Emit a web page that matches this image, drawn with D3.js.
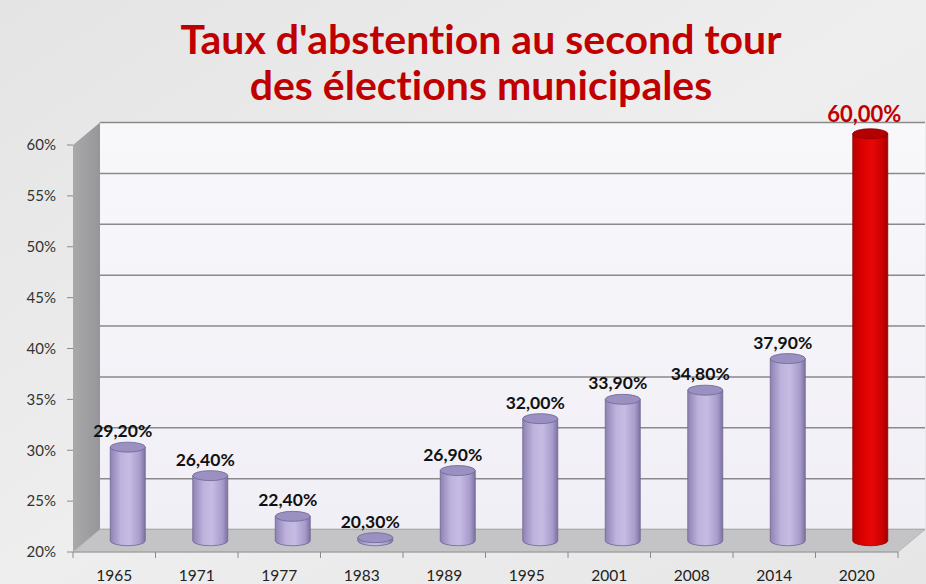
<!DOCTYPE html>
<html>
<head>
<meta charset="utf-8">
<script src="https://cdn.jsdelivr.net/npm/d3@7"></script>
<style>
  html, body { margin: 0; padding: 0; background: #e6e6e6; }
  svg { display: block; }
  text { font-variant-ligatures: none; }
</style>
</head>
<body>
<div id="chart"></div>
<script>
// Data
const years = ['1965', '1971', '1977', '1983', '1989', '1995', '2001', '2008', '2014', '2020'];
const abstention = [29.2, 26.4, 22.4, 20.3, 26.9, 32.0, 33.9, 34.8, 37.9, 60.0];
const yTicks = [20, 25, 30, 35, 40, 45, 50, 55, 60];
const titleLines = ["Taux d'abstention au second tour", 'des élections municipales'];
const highlightYear = '2020';

const width = 926;
const height = 584;

// front plane of the 3D box, plus depth offset to back wall
const front = { left: 73, right: 898, top: 145, bottom: 552 };
const depth = { dx: 27, dy: -22.5 };

const x = d3.scaleBand()
    .domain(years)
    .range([front.left, front.right]);

const y = d3.scaleLinear()
    .domain([20, 60])
    .range([front.bottom, front.top]);

const frFormat = d3.formatLocale({ decimal: ',', thousands: ' ', grouping: [3], currency: ['', ' €'] }).format('.2f');
const pct = v => frFormat(v) + '%';

const svg = d3.select('#chart')
    .append('svg')
    .attr('width', width)
    .attr('height', height);

const defs = svg.append('defs');

// background
const bg = defs.append('linearGradient').attr('id', 'bg')
    .attr('x1', 0).attr('y1', 0).attr('x2', 1).attr('y2', 1);
bg.append('stop').attr('offset', 0).attr('stop-color', '#e4e4e4');
bg.append('stop').attr('offset', 0.5).attr('stop-color', '#eeeeee');
bg.append('stop').attr('offset', 1).attr('stop-color', '#e6e6e6');

const wall = defs.append('linearGradient').attr('id', 'wall')
    .attr('x1', 0).attr('y1', 0).attr('x2', 0).attr('y2', 1);
wall.append('stop').attr('offset', 0).attr('stop-color', '#f8f8fb');
wall.append('stop').attr('offset', 1).attr('stop-color', '#f1eff6');

const side = defs.append('linearGradient').attr('id', 'side')
    .attr('x1', 0).attr('y1', 0).attr('x2', 1).attr('y2', 0);
side.append('stop').attr('offset', 0).attr('stop-color', '#a9a9ab');
side.append('stop').attr('offset', 1).attr('stop-color', '#96969a');

function cylGradient(id, stops) {
    const g = defs.append('linearGradient').attr('id', id)
        .attr('x1', 0).attr('y1', 0).attr('x2', 1).attr('y2', 0);
    stops.forEach(s => g.append('stop').attr('offset', s[0]).attr('stop-color', s[1]));
}
cylGradient('lav', [[0, '#8e82b4'], [0.3, '#bdb2dc'], [0.55, '#c6bce3'], [0.85, '#a79bcc'], [1, '#7d719f']]);
cylGradient('red', [[0, '#b80000'], [0.3, '#e00000'], [0.55, '#e60808'], [0.85, '#cc0000'], [1, '#9a0000']]);

svg.append('rect')
    .attr('width', width)
    .attr('height', height)
    .attr('fill', 'url(#bg)');

// title
svg.append('g')
    .selectAll('text')
    .data(titleLines)
    .join('text')
    .attr('x', 481)
    .attr('y', (d, i) => 54 + i * 46)
    .attr('text-anchor', 'middle')
    .attr('fill', '#c00000')
    .style('font-family', 'Lato, "Open Sans", sans-serif')
    .style('font-weight', 'bold')
    .style('font-size', '41px')
    .text(d => d);

// back wall
const backLeft = front.left + depth.dx;
const backRight = front.right + depth.dx;
svg.append('rect')
    .attr('x', backLeft)
    .attr('y', y(60) + depth.dy)
    .attr('width', backRight - backLeft)
    .attr('height', y(20) - y(60))
    .attr('fill', 'url(#wall)');

// gridlines on back wall
svg.append('g')
    .selectAll('line')
    .data(yTicks)
    .join('line')
    .attr('x1', backLeft)
    .attr('x2', backRight)
    .attr('y1', d => y(d) + depth.dy)
    .attr('y2', d => y(d) + depth.dy)
    .attr('stroke', '#8a8a8a')
    .attr('stroke-width', 1.5);

// side wall
svg.append('path')
    .attr('d', `M${front.left},${y(60)} L${backLeft},${y(60) + depth.dy} L${backLeft},${y(20) + depth.dy} L${front.left},${y(20)} Z`)
    .attr('fill', 'url(#side)');

// floor
svg.append('path')
    .attr('d', `M${front.left},${y(20)} L${backLeft},${y(20) + depth.dy} L${backRight},${y(20) + depth.dy} L${front.right},${y(20)} Z`)
    .attr('fill', '#c4c4c6')
    .attr('stroke', '#b0b0b2')
    .attr('stroke-width', 0.8);

// y axis ticks and labels
const yAxis = svg.append('g');
yAxis.selectAll('line')
    .data(yTicks)
    .join('line')
    .attr('x1', front.left - 6)
    .attr('x2', front.left)
    .attr('y1', d => y(d))
    .attr('y2', d => y(d))
    .attr('stroke', '#8a8a8a');
yAxis.selectAll('text')
    .data(yTicks)
    .join('text')
    .attr('x', 56)
    .attr('y', d => y(d))
    .attr('dy', '0.35em')
    .attr('text-anchor', 'end')
    .attr('fill', '#333')
    .style('font-family', 'Lato, sans-serif')
    .style('font-size', '15px')
    .text(d => d + '%');

// x axis ticks and labels
const xAxis = svg.append('g');
xAxis.append('line')
    .attr('x1', front.left).attr('x2', front.right)
    .attr('y1', y(20)).attr('y2', y(20))
    .attr('stroke', '#9a9a9a');
xAxis.selectAll('line.tick')
    .data(years.concat(['end']))
    .join('line')
    .attr('class', 'tick')
    .attr('x1', d => d === 'end' ? front.right : x(d))
    .attr('x2', d => d === 'end' ? front.right : x(d))
    .attr('y1', y(20))
    .attr('y2', y(20) + 6)
    .attr('stroke', '#8a8a8a');
xAxis.selectAll('text')
    .data(years)
    .join('text')
    .attr('x', d => x(d) + x.bandwidth() / 2)
    .attr('y', 581)
    .attr('text-anchor', 'middle')
    .attr('fill', '#222')
    .style('font-family', 'Lato, sans-serif')
    .style('font-size', '15.5px')
    .text(d => d);

// cylinders
const rx = 17.5;
const ry = 5;
const bars = years.map((yr, i) => ({ year: yr, value: abstention[i] }));

const cyl = svg.append('g')
    .selectAll('g')
    .data(bars)
    .join('g');

const cx = d => x(d.year) + x.bandwidth() / 2 + depth.dx / 2;
const cyTop = d => y(d.value) + depth.dy / 2;
const cyBot = d => y(20) + depth.dy / 2;

cyl.append('path')
    .attr('d', d => {
        const c = cx(d), t = cyTop(d), b = cyBot(d);
        return `M${c - rx},${t} L${c - rx},${b} A${rx},${ry} 0 0 0 ${c + rx},${b} L${c + rx},${t} Z`;
    })
    .attr('fill', d => d.year === highlightYear ? 'url(#red)' : 'url(#lav)')
    .attr('stroke', d => d.year === highlightYear ? '#8a0000' : '#6f6690')
    .attr('stroke-width', 0.8);

cyl.append('ellipse')
    .attr('cx', cx)
    .attr('cy', cyTop)
    .attr('rx', rx)
    .attr('ry', ry)
    .attr('fill', d => d.year === highlightYear ? '#b30000' : '#9b90c2')
    .attr('stroke', d => d.year === highlightYear ? '#8a0000' : '#6f6690')
    .attr('stroke-width', 0.8);

// value labels
cyl.append('text')
    .attr('x', d => cx(d) - (d.year === highlightYear ? 6 : 5))
    .attr('y', d => cyTop(d) - (d.year === highlightYear ? 12 : 10))
    .attr('text-anchor', 'middle')
    .attr('fill', d => d.year === highlightYear ? '#c00000' : '#111')
    .style('font-family', 'Lato, sans-serif')
    .style('font-weight', 'bold')
    .style('font-size', d => d.year === highlightYear ? '22px' : '17.5px')
    .text(d => pct(d.value));
</script>
</body>
</html>
